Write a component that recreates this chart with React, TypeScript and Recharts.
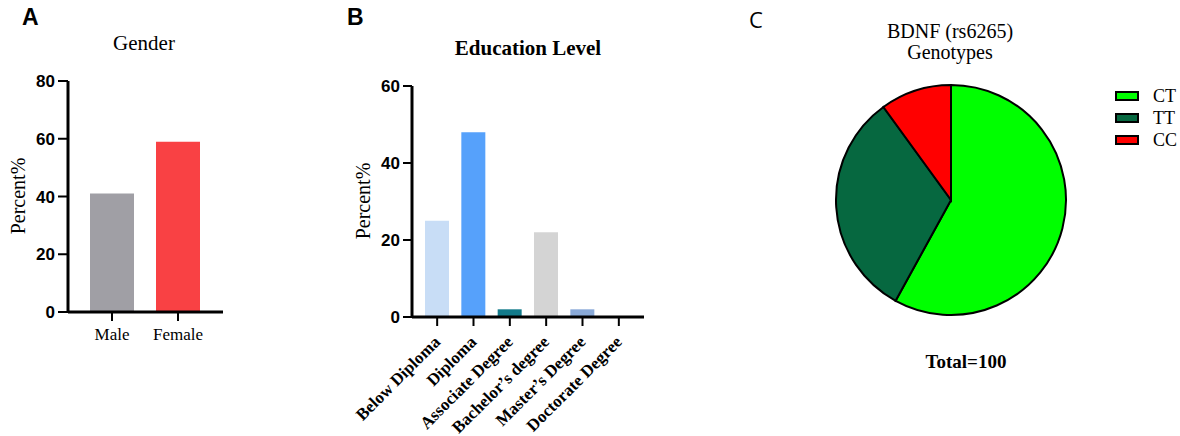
import { BarChart, Bar, XAxis, YAxis, Cell, PieChart, Pie, Legend } from "recharts";

const genderCategories = ["Male", "Female"];
const genderValues = [41, 59];
const genderColors = ["#a09fa5", "#f94144"];
const genderTicks = [0, 20, 40, 60, 80];

const eduCategories = [
  "Below Diploma",
  "Diploma",
  "Associate Degree",
  "Bachelor\u2019s degree",
  "Master\u2019s Degree",
  "Doctorate Degree",
];
const eduValues = [25, 48, 2, 22, 2, 0];
const eduColors = ["#c8ddf6", "#56a1fb", "#137b8b", "#d4d4d4", "#8aaad8", "#cccccc"];
const eduTicks = [0, 20, 40, 60];

const genoNames = ["CT", "TT", "CC"];
const genoValues = [58, 32, 10];
const genoColors = ["#00ff00", "#066840", "#ff0000"];

const SERIF = "'Liberation Serif', 'Times New Roman', serif";
const SANS = "'Liberation Sans', Arial, sans-serif";

const genderData = genderCategories.map((name, i) => ({ name, value: genderValues[i] }));
const eduData = eduCategories.map((name, i) => ({ name, value: eduValues[i] }));
const genoData = genoNames.map((name, i) => ({ name, value: genoValues[i] }));

const axisLine = { stroke: "#000", strokeWidth: 3 };
const tickLine = { stroke: "#000", strokeWidth: 2 };
const yTick = { fill: "#000", fontSize: 17, fontWeight: "bold", fontFamily: SANS };

function EduTick({ x, y, payload }: any) {
  return (
    <g transform={`translate(${x + 4},${y + 15})`}>
      <text
        transform="rotate(-45)"
        textAnchor="end"
        fontFamily={SERIF}
        fontWeight="bold"
        fontSize={17}
        fill="#000"
      >
        {payload.value}
      </text>
    </g>
  );
}

function GenoLegend() {
  return (
    <div style={{ fontFamily: SERIF, fontSize: 18, color: "#000" }}>
      {genoNames.map((n, i) => (
        <div key={n} style={{ display: "flex", alignItems: "center", height: 22 }}>
          <div
            style={{
              width: 24,
              height: 10,
              boxSizing: "border-box",
              border: "2px solid #000",
              background: genoColors[i],
              marginRight: 14,
            }}
          />
          <span style={{ lineHeight: "22px" }}>{n}</span>
        </div>
      ))}
    </div>
  );
}

export default function App() {
  return (
    <div
      style={{
        position: "absolute",
        left: 0,
        top: 0,
        width: 1180,
        height: 436,
        background: "#fff",
        overflow: "hidden",
      }}
    >
      {/* A: gender */}
      <div style={{ position: "absolute", left: 0, top: 0 }}>
        <BarChart
          width={240}
          height={360}
          data={genderData}
          margin={{ top: 81, left: 28, right: 17, bottom: 18 }}
        >
          <XAxis
            dataKey="name"
            height={30}
            padding={{ left: 11, right: 12 }}
            axisLine={axisLine}
            tickLine={tickLine}
            tickSize={9}
            tickMargin={7}
            tick={{ fill: "#000", fontSize: 17, fontFamily: SERIF }}
          />
          <YAxis
            width={40}
            domain={[0, 80]}
            ticks={genderTicks}
            axisLine={axisLine}
            tickLine={tickLine}
            tickSize={10}
            tickMargin={3}
            tick={yTick}
          />
          <Bar dataKey="value" barSize={44} isAnimationActive={false}>
            {genderData.map((d, i) => (
              <Cell key={d.name} fill={genderColors[i]} />
            ))}
          </Bar>
        </BarChart>
      </div>

      {/* B: education */}
      <div style={{ position: "absolute", left: 340, top: 0 }}>
        <BarChart
          width={320}
          height={436}
          data={eduData}
          margin={{ top: 86, left: 32, right: 16, bottom: 9 }}
        >
          <XAxis
            dataKey="name"
            height={110}
            interval={0}
            padding={{ left: 7, right: 7 }}
            axisLine={axisLine}
            tickLine={tickLine}
            tickSize={9}
            tickMargin={2}
            tick={<EduTick />}
          />
          <YAxis
            width={40}
            domain={[0, 60]}
            ticks={eduTicks}
            axisLine={axisLine}
            tickLine={tickLine}
            tickSize={9}
            tickMargin={3}
            tick={yTick}
          />
          <Bar dataKey="value" barSize={24} isAnimationActive={false}>
            {eduData.map((d, i) => (
              <Cell key={d.name} fill={eduColors[i]} />
            ))}
          </Bar>
        </BarChart>
      </div>

      {/* C: genotypes */}
      <div style={{ position: "absolute", left: 740, top: 0 }}>
        <PieChart width={440} height={436} margin={{ top: 0, right: 0, bottom: 0, left: 0 }}>
          <Pie
            data={genoData}
            dataKey="value"
            nameKey="name"
            cx={211}
            cy={200}
            outerRadius={115}
            startAngle={90}
            endAngle={-270}
            stroke="#000"
            strokeWidth={2}
            isAnimationActive={false}
          >
            {genoData.map((d, i) => (
              <Cell key={d.name} fill={genoColors[i]} />
            ))}
          </Pie>
          <Legend
            layout="vertical"
            align="right"
            verticalAlign="top"
            wrapperStyle={{ left: 375, top: 85, width: 80, right: "auto" }}
            content={() => <GenoLegend />}
          />
        </PieChart>
      </div>

      {/* titles, panel letters, axis titles */}
      <svg
        width={1180}
        height={436}
        style={{ position: "absolute", left: 0, top: 0, pointerEvents: "none" }}
      >
        <text x={22} y={25} fontFamily={SANS} fontWeight="bold" fontSize={23} fill="#000">A</text>
        <text x={347} y={25} fontFamily={SANS} fontWeight="bold" fontSize={23} fill="#000">B</text>
        <text x={749} y={28} fontFamily="'Open Sans', 'DejaVu Sans', sans-serif" fontSize={22} fill="#000">C</text>

        <text x={144} y={50} textAnchor="middle" fontFamily={SERIF} fontSize={21} fill="#000">Gender</text>
        <text x={528} y={55} textAnchor="middle" fontFamily={SERIF} fontWeight="bold" fontSize={21} fill="#000">
          Education Level
        </text>
        <text x={950} y={38} textAnchor="middle" fontFamily={SERIF} fontSize={20} fill="#000">BDNF (rs6265)</text>
        <text x={950} y={59} textAnchor="middle" fontFamily={SERIF} fontSize={20} fill="#000">Genotypes</text>
        <text x={966} y={368} textAnchor="middle" fontFamily={SERIF} fontWeight="bold" fontSize={19} fill="#000">
          Total=100
        </text>

        <text x={25} y={196} transform="rotate(-90, 25, 196)" textAnchor="middle" fontFamily={SERIF} fontSize={20} fill="#000">
          Percent%
        </text>
        <text x={370} y={201} transform="rotate(-90, 370, 201)" textAnchor="middle" fontFamily={SERIF} fontSize={20} fill="#000">
          Percent%
        </text>
      </svg>
    </div>
  );
}
